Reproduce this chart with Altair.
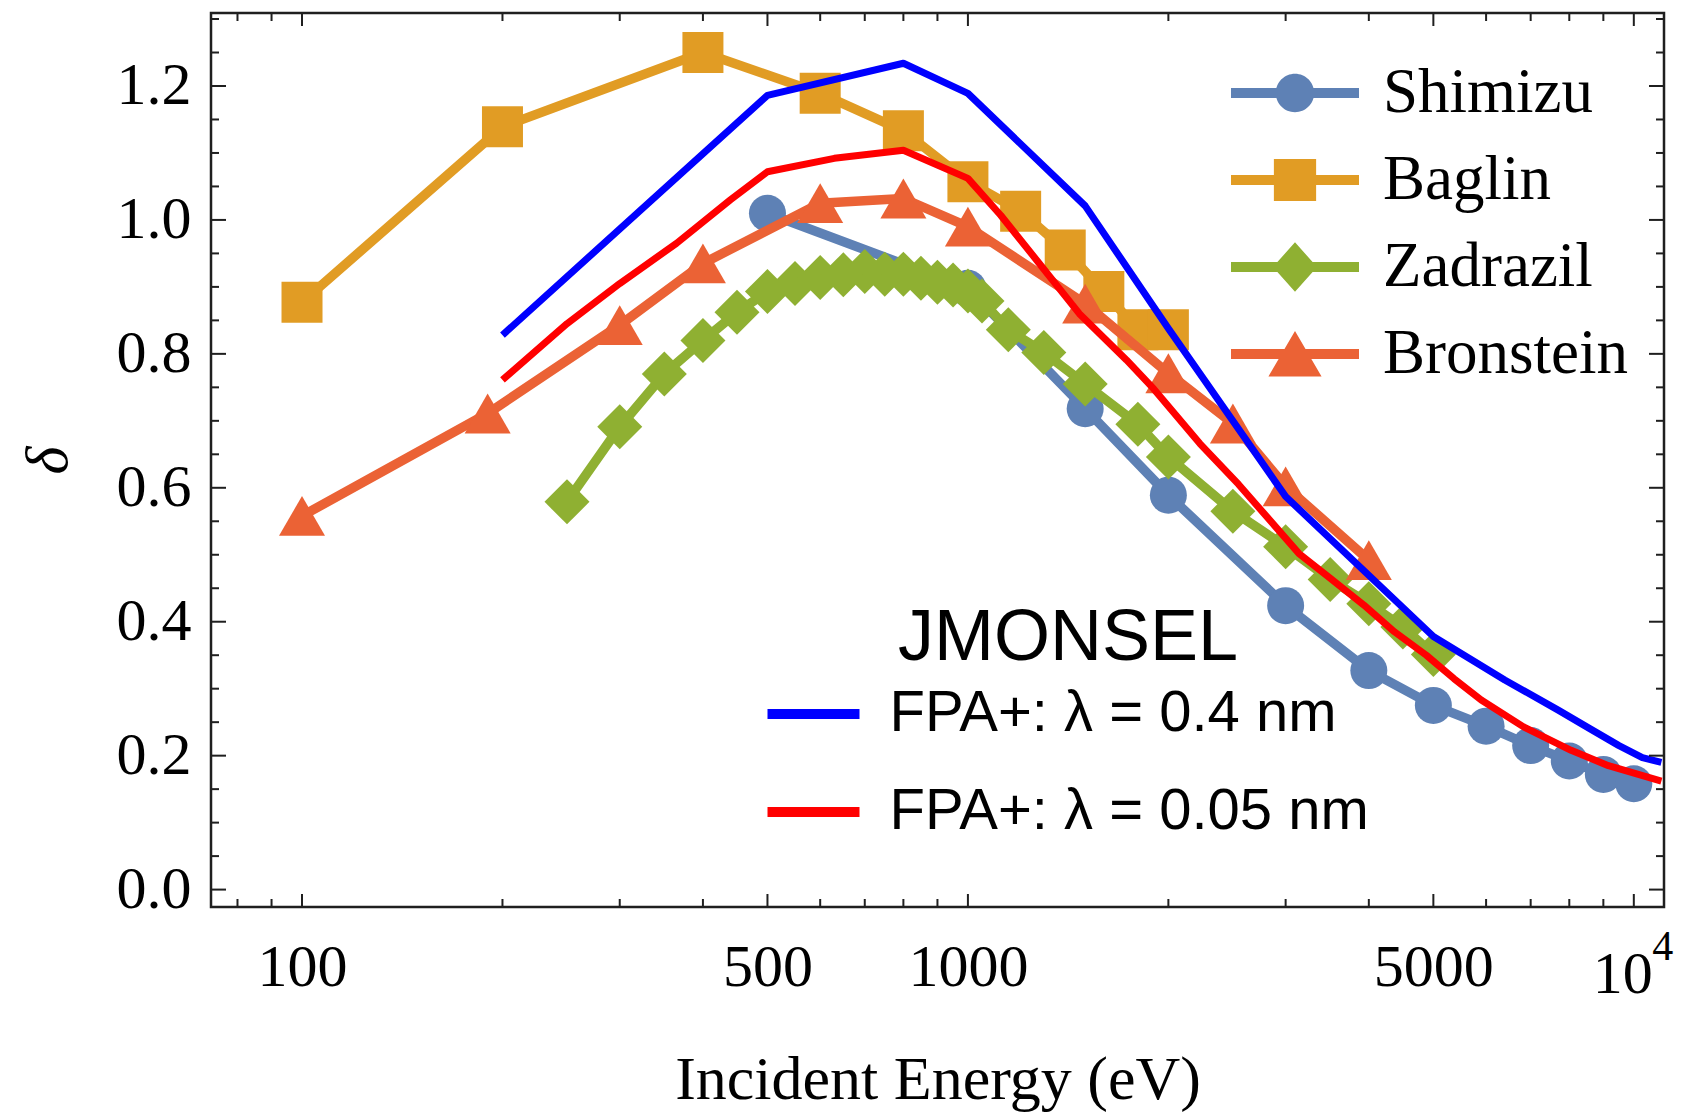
import altair as alt
import pandas as pd

# ---------------- data ----------------
shimizu_E = [500, 1000, 1500, 2000, 3000, 4000, 5000, 6000, 7000, 8000, 9000, 10000]
shimizu_d = [1.010, 0.898, 0.718, 0.589, 0.424, 0.327, 0.275, 0.244, 0.215, 0.192, 0.172, 0.158]

baglin_E = [100, 200, 400, 600, 800, 1000, 1200, 1400, 1600, 1800, 2000]
baglin_d = [0.877, 1.139, 1.250, 1.189, 1.133, 1.057, 1.013, 0.955, 0.893, 0.836, 0.836]

zadrazil_E = [250, 300, 350, 400, 450, 500, 550, 600, 650, 700, 750, 800, 850, 900, 950,
              1000, 1050, 1150, 1300, 1500, 1800, 2000, 2500, 3000, 3500, 4000, 4500, 5000]
zadrazil_d = [0.579, 0.691, 0.770, 0.820, 0.862, 0.893, 0.905, 0.914, 0.918, 0.923, 0.919,
              0.919, 0.913, 0.907, 0.903, 0.894, 0.879, 0.836, 0.802, 0.755, 0.695, 0.646,
              0.565, 0.512, 0.463, 0.427, 0.392, 0.351]

bronstein_E = [100, 190, 300, 400, 600, 800, 1000, 1500, 2000, 2500, 3000, 4000]
bronstein_d = [0.558, 0.711, 0.843, 0.935, 1.025, 1.032, 0.990, 0.875, 0.771, 0.696, 0.602, 0.492]

fpa04_E = [200, 500, 800, 1000, 1500, 2000, 3000, 5000, 6400, 7700, 8600, 9500, 10300, 11000]
fpa04_d = [0.828, 1.186, 1.234, 1.189, 1.021, 0.838, 0.587, 0.378, 0.313, 0.268, 0.240, 0.215, 0.197, 0.190]

fpa005_E = [200, 250, 300, 365, 440, 500, 630, 800, 1000, 1120, 1280, 1470, 1730, 1900, 2230,
            2550, 3140, 3500, 3930, 4370, 4880, 5370, 5900, 6830, 8050, 9160, 11000]
fpa005_d = [0.761, 0.845, 0.905, 0.965, 1.030, 1.072, 1.092, 1.104, 1.062, 1.007, 0.935, 0.860,
            0.791, 0.748, 0.666, 0.605, 0.502, 0.465, 0.425, 0.385, 0.350, 0.315, 0.283, 0.243,
            0.208, 0.185, 0.162]

series_names = ["Shimizu", "Baglin", "Zadrazil", "Bronstein"]
series_colors = ["#5E81B5", "#E19C24", "#8FB032", "#EB6235"]
jm_names = ["FPA+: \u03bb = 0.4 nm", "FPA+: \u03bb = 0.05 nm"]
jm_colors = ["#0000FF", "#FF0000"]

x_label_values = [100, 500, 1000, 5000]
x_major_ticks = [100, 500, 1000, 5000, 10000]
x_minor_ticks = [80, 90, 200, 300, 400, 600, 700, 800, 900, 2000, 3000, 4000,
                 6000, 7000, 8000, 9000]
y_major_ticks = [0.0, 0.2, 0.4, 0.6, 0.8, 1.0, 1.2]
y_minor_ticks = [0.05, 0.1, 0.15, 0.25, 0.3, 0.35, 0.45, 0.5, 0.55, 0.65, 0.7, 0.75,
                 0.85, 0.9, 0.95, 1.05, 1.1, 1.15, 1.25, 1.3]
sup_E = [10000]
sup_base = ["10"]
sup_exp = ["4"]

# ---------------- layout ----------------
W, H = 1453, 894
FRAME = "#1f1f1f"
SERIF = "Liberation Serif"
SANS = "Liberation Sans"

x_scale = alt.Scale(type="log", domain=[73, 11100], nice=False)
y_scale = alt.Scale(domain=[-0.026, 1.309], nice=False, zero=False)

x_axis = alt.Axis(values=x_label_values, format="d", labelFont=SERIF, labelFontSize=60,
                  labelColor="black", labelPadding=31, labelFlush=False, labelOverlap=False,
                  ticks=False, tickSize=0, domain=False, grid=False,
                  title="Incident Energy (eV)", titleFont=SERIF, titleFontSize=62,
                  titleFontWeight="normal", titleColor="black", titleY=191,
                  titleBaseline="alphabetic")
y_axis = alt.Axis(values=y_major_ticks, format=".1f", labelFont=SERIF, labelFontSize=60,
                  labelColor="black", labelPadding=20, labelFlush=False, labelOverlap=False,
                  ticks=False, tickSize=0, domain=False, grid=False,
                  title="\u03b4", titleFont=SERIF, titleFontSize=60, titleFontStyle="italic",
                  titleFontWeight="normal", titleColor="black", titleX=-163, titleY=447,
                  titleBaseline="middle", titleAngle=270)

X = alt.X("E:Q", scale=x_scale, axis=x_axis)
Y = alt.Y("delta:Q", scale=y_scale, axis=y_axis)


def frame(E, d):
    return pd.DataFrame({"E": E, "delta": d})


def exp_layers(E, d, color, shape, size):
    data = frame(E, d)
    line = alt.Chart(data).mark_line(color=color, strokeWidth=9.5, strokeJoin="round").encode(x=X, y=Y)
    pts = alt.Chart(data).mark_point(filled=True, shape=shape, size=size, color=color,
                                     opacity=1, strokeWidth=0).encode(x=X, y=Y)
    return [line, pts]


layers = []
layers += exp_layers(shimizu_E, shimizu_d, series_colors[0], "circle", 1369)
layers += exp_layers(zadrazil_E, zadrazil_d, series_colors[2], "diamond", 2025)
layers += exp_layers(baglin_E, baglin_d, series_colors[1], "square", 1681)
layers += exp_layers(bronstein_E, bronstein_d, series_colors[3], "triangle-up", 2116)

# JMONSEL simulation lines with their own legend
jm_df = pd.concat([
    pd.DataFrame({"E": fpa04_E, "delta": fpa04_d, "model": jm_names[0]}),
    pd.DataFrame({"E": fpa005_E, "delta": fpa005_d, "model": jm_names[1]}),
], ignore_index=True)
jm_legend = alt.Legend(title="JMONSEL", orient="none", legendX=556, legendY=590,
                       titleFont=SANS, titleFontSize=72, titleFontWeight="normal",
                       titleColor="black", titleAnchor="middle", titlePadding=10,
                       titleLimit=1000, labelFont=SANS, labelFontSize=58, labelColor="black",
                       labelOffset=47, labelLimit=1000, symbolType="M-2.3,0H2.3",
                       symbolSize=1600, symbolStrokeWidth=10, symbolOffset=17.5,
                       rowPadding=40, padding=0)
jm = alt.Chart(jm_df).mark_line(strokeWidth=7, strokeJoin="round").encode(
    x=X, y=Y,
    color=alt.Color("model:N", scale=alt.Scale(domain=jm_names, range=jm_colors),
                    legend=jm_legend),
)
layers.append(jm)

# legend for the experimental series (line + marker symbols)
bar = "M-2,-0.16H2V0.16H-2Z "
legend_paths = [
    bar + "M-0.6,0A0.6,0.6 0 1,1 0.6,0A0.6,0.6 0 1,1 -0.6,0Z",
    bar + "M-0.66,-0.66H0.66V0.66H-0.66Z",
    bar + "M0,-0.77L0.69,0L0,0.77L-0.69,0Z",
    bar + "M0,-0.72L0.83,0.7L-0.83,0.7Z",
]
exp_legend = alt.Legend(title=None, orient="none", legendX=1020, legendY=48,
                        labelFont=SERIF, labelFontSize=63, labelColor="black",
                        labelOffset=56, labelLimit=1000, symbolSize=4096,
                        symbolStrokeWidth=0, symbolOffset=32, rowPadding=23, padding=0)
carrier_df = pd.DataFrame({"series": series_names, "E": [1000] * 4, "delta": [0.5] * 4})
carrier = alt.Chart(carrier_df).transform_filter("false").mark_point(
    filled=True, opacity=1).encode(
    x=X, y=Y,
    color=alt.Color("series:N", scale=alt.Scale(domain=series_names, range=series_colors),
                    legend=exp_legend),
    shape=alt.Shape("series:N", scale=alt.Scale(domain=series_names, range=legend_paths),
                    legend=exp_legend),
)
layers.append(carrier)

# inward frame ticks (mirrored on all four sides)
xmaj = pd.DataFrame({"E": x_major_ticks})
xmin = pd.DataFrame({"E": x_minor_ticks})
ymaj = pd.DataFrame({"delta": y_major_ticks})
ymin = pd.DataFrame({"delta": y_minor_ticks})
tick = dict(color=FRAME, strokeWidth=2)
for dfx, ln in ((xmaj, 13), (xmin, 8)):
    layers.append(alt.Chart(dfx).mark_rule(**tick).encode(x=X, y=alt.value(H), y2=alt.value(H - ln)))
    layers.append(alt.Chart(dfx).mark_rule(**tick).encode(x=X, y=alt.value(0), y2=alt.value(ln)))
for dfy, ln in ((ymaj, 15), (ymin, 8)):
    layers.append(alt.Chart(dfy).mark_rule(**tick).encode(y=Y, x=alt.value(0), x2=alt.value(ln)))
    layers.append(alt.Chart(dfy).mark_rule(**tick).encode(y=Y, x=alt.value(W), x2=alt.value(W - ln)))

# "10^4" label
sup_df = pd.DataFrame({"E": sup_E, "base": sup_base, "exp": sup_exp})
layers.append(alt.Chart(sup_df).mark_text(font=SERIF, fontSize=60, baseline="alphabetic",
                                          align="center", dx=-11, color="black").encode(
    x=X, y=alt.value(980), text="base:N"))
layers.append(alt.Chart(sup_df).mark_text(font=SERIF, fontSize=42, baseline="alphabetic",
                                          align="center", dx=29, color="black").encode(
    x=X, y=alt.value(947), text="exp:N"))

chart = alt.layer(*layers).resolve_scale(color="independent", shape="independent").properties(
    width=W, height=H,
    autosize=alt.AutoSizeParams(type="none"),
    padding={"left": 211, "top": 13, "right": 19, "bottom": 209},
).configure_view(stroke=FRAME, strokeWidth=2.5)

chart.save("out.html", embed_options={"renderer": "svg", "actions": False})
